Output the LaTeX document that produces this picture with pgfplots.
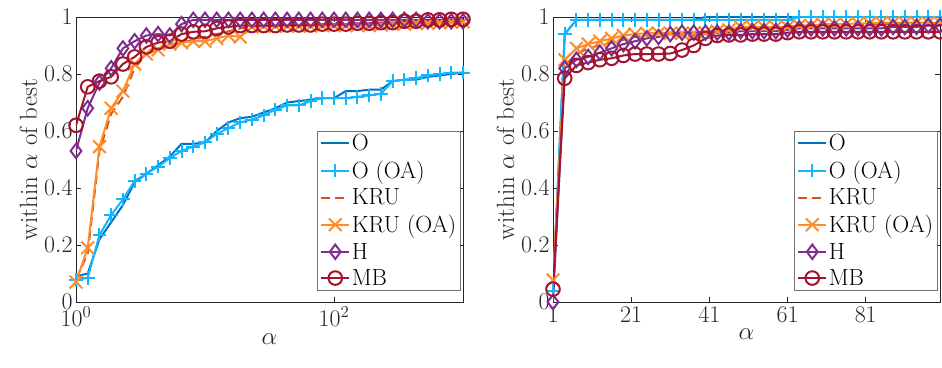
\RequirePackage{fix-cm}
\documentclass[border=0pt]{standalone}
\usepackage{pgfplots}
\pgfplotsset{compat=1.18}
\usepackage{pgfplotstable}
\definecolor{cO}{rgb}{0,0.447,0.741}
\definecolor{cOA}{RGB}{18,182,255}
\definecolor{cK}{rgb}{0.851,0.325,0.098}
\definecolor{cKA}{RGB}{255,140,40}
\definecolor{cH}{rgb}{0.494,0.184,0.557}
\definecolor{cM}{rgb}{0.635,0.078,0.184}
\definecolor{axc}{rgb}{0.15,0.15,0.15}

\pgfplotstableread{
a O OA K KA H M
1 0.09 0.077 0.08 0.07 0.53 0.62
1.2328 0.10 0.085 0.17 0.19 0.68 0.755
1.5199 0.22 0.235 0.53 0.545 0.77 0.775
1.8738 0.28 0.305 0.66 0.68 0.82 0.79
2.3101 0.34 0.36 0.72 0.74 0.89 0.835
2.8480 0.42 0.425 0.82 0.835 0.915 0.86
3.5112 0.45 0.45 0.87 0.87 0.935 0.895
4.3288 0.48 0.475 0.89 0.885 0.94 0.91
5.3367 0.51 0.505 0.90 0.905 0.935 0.915
6.5793 0.555 0.53 0.91 0.91 0.975 0.94
8.1113 0.555 0.545 0.92 0.915 0.99 0.948
10 0.56 0.56 0.93 0.915 0.99 0.95
12.328 0.60 0.59 0.94 0.925 0.99 0.96
15.199 0.63 0.61 0.95 0.935 0.99 0.965
18.738 0.645 0.63 0.96 0.93 0.99 0.97
23.101 0.65 0.64 0.965 0.965 0.99 0.97
28.480 0.665 0.655 0.97 0.968 0.99 0.97
35.112 0.68 0.675 0.97 0.968 0.99 0.97
43.288 0.70 0.69 0.97 0.968 0.99 0.972
53.367 0.705 0.69 0.97 0.968 0.99 0.972
65.793 0.71 0.705 0.97 0.968 0.99 0.972
81.113 0.715 0.715 0.972 0.97 0.99 0.975
100 0.715 0.715 0.972 0.97 0.99 0.975
123.28 0.74 0.715 0.975 0.97 0.99 0.975
151.99 0.74 0.72 0.975 0.97 0.99 0.978
187.38 0.745 0.725 0.975 0.97 0.99 0.978
231.01 0.745 0.73 0.975 0.972 0.99 0.98
284.80 0.775 0.775 0.978 0.975 0.99 0.98
351.12 0.78 0.78 0.978 0.975 0.99 0.985
432.88 0.78 0.785 0.98 0.978 0.99 0.985
533.67 0.79 0.795 0.98 0.978 0.985 0.99
657.93 0.795 0.80 0.982 0.98 0.985 0.99
811.13 0.80 0.805 0.985 0.982 0.985 0.992
1000 0.805 0.805 0.985 0.983 0.985 0.992
}\leftdata

\pgfplotstableread{
a O OA K KA H M
1 0.04 0.04 0.06 0.077 0.0 0.045
4 0.94 0.94 0.83 0.85 0.82 0.785
7 0.99 0.99 0.87 0.89 0.85 0.83
10 0.99 0.99 0.89 0.905 0.86 0.84
13 0.99 0.99 0.90 0.915 0.875 0.85
16 0.99 0.99 0.91 0.925 0.89 0.855
19 0.99 0.99 0.92 0.935 0.905 0.865
22 0.99 0.99 0.93 0.94 0.915 0.87
25 0.99 0.99 0.935 0.943 0.925 0.87
28 0.99 0.99 0.935 0.943 0.93 0.87
31 0.99 0.99 0.935 0.943 0.94 0.872
34 0.99 0.99 0.935 0.943 0.945 0.884
37 0.99 0.99 0.935 0.943 0.945 0.90
40 1 0.99 0.94 0.945 0.945 0.925
43 1 0.99 0.945 0.95 0.945 0.935
46 1 0.99 0.95 0.955 0.945 0.937
49 1 0.99 0.955 0.965 0.95 0.937
52 1 0.99 0.96 0.965 0.95 0.94
55 1 0.99 0.96 0.965 0.95 0.94
58 1 0.99 0.965 0.965 0.95 0.94
61 1 0.99 0.965 0.965 0.955 0.945
64 1 1 0.97 0.97 0.96 0.948
67 1 1 0.97 0.97 0.96 0.948
70 1 1 0.97 0.975 0.96 0.948
73 1 1 0.97 0.975 0.96 0.948
76 1 1 0.972 0.975 0.96 0.948
79 1 1 0.972 0.978 0.96 0.948
82 1 1 0.972 0.978 0.96 0.948
85 1 1 0.975 0.98 0.96 0.948
88 1 1 0.975 0.98 0.965 0.948
91 1 1 0.975 0.98 0.965 0.948
94 1 1 0.975 0.98 0.965 0.948
97 1 1 0.975 0.98 0.97 0.948
100 1 1 0.975 0.98 0.97 0.948
}\rightdata

\pgfplotsset{
  common/.style={
    scale only axis, width=387bp, height=285bp,
    ymin=0, ymax=1, ytick={0,0.2,0.4,0.6,0.8,1},
    tick align=inside, major tick length=5bp,
    axis line style={axc, line width=0.6pt},
    every tick/.style={axc, line width=0.6pt},
    ticklabel style={font=\fontsize{24}{28}\selectfont, text=axc},
    xticklabel style={yshift=-1.5bp},
    label style={font=\fontsize{25}{30}\selectfont, text=axc},
    ylabel={within $\alpha$ of best}, xlabel={$\alpha$},
    legend cell align=left,
    legend style={font=\fontsize{23.5}{28}\selectfont, draw=black!55, line width=0.6pt,
      at={(0.995,0.04)}, anchor=south east, inner xsep=3bp, inner ysep=2bp, row sep=5.8bp,
      nodes={inner sep=1.5bp}},
    legend image code/.code={\draw[mark repeat=2,mark phase=2] plot coordinates {(0bp,0bp) (14bp,0bp) (28bp,0bp)};},
  },
  sO/.style={cO, line width=2pt, mark=none},
  sOA/.style={cOA, line width=2pt, mark=+, mark size=6.8bp, mark options={solid}},
  sK/.style={cK, line width=2pt, dash pattern=on 9bp off 5bp, mark=none},
  sKA/.style={cKA, line width=2pt, mark=x, mark size=9bp, mark options={solid}},
  sH/.style={cH, line width=2pt, mark=diamond, mark size=7.2bp, mark options={solid}},
  sM/.style={cM, line width=2pt, mark=o, mark size=6.8bp, mark options={solid}},
}

\begin{document}
\begin{tikzpicture}
\begin{axis}[common, xmode=log, xmin=1, xmax=1000, xtick={1,100}, xminorticks=false]
\addplot[sO] table[x=a,y=O]{\leftdata};
\addplot[sOA] table[x=a,y=OA]{\leftdata};
\addplot[sK] table[x=a,y=K]{\leftdata};
\addplot[sKA] table[x=a,y=KA]{\leftdata};
\addplot[sH] table[x=a,y=H]{\leftdata};
\addplot[sM] table[x=a,y=M]{\leftdata};
\legend{O, O (OA), KRU, KRU (OA)\hspace{8bp}, H, MB}
\end{axis}
\begin{axis}[common, at={(477bp,0bp)}, xmin=1, xmax=100, xtick={1,21,41,61,81}]
\addplot[sO] table[x=a,y=O]{\rightdata};
\addplot[sOA] table[x=a,y=OA]{\rightdata};
\addplot[sK] table[x=a,y=K]{\rightdata};
\addplot[sKA] table[x=a,y=KA]{\rightdata};
\addplot[sH] table[x=a,y=H]{\rightdata};
\addplot[sM] table[x=a,y=M]{\rightdata};
\legend{O, O (OA), KRU, KRU (OA), H, MB}
\end{axis}
\pgfresetboundingbox
\path (-76bp,-66bp) rectangle (866bp,302bp);
\end{tikzpicture}
\end{document}
